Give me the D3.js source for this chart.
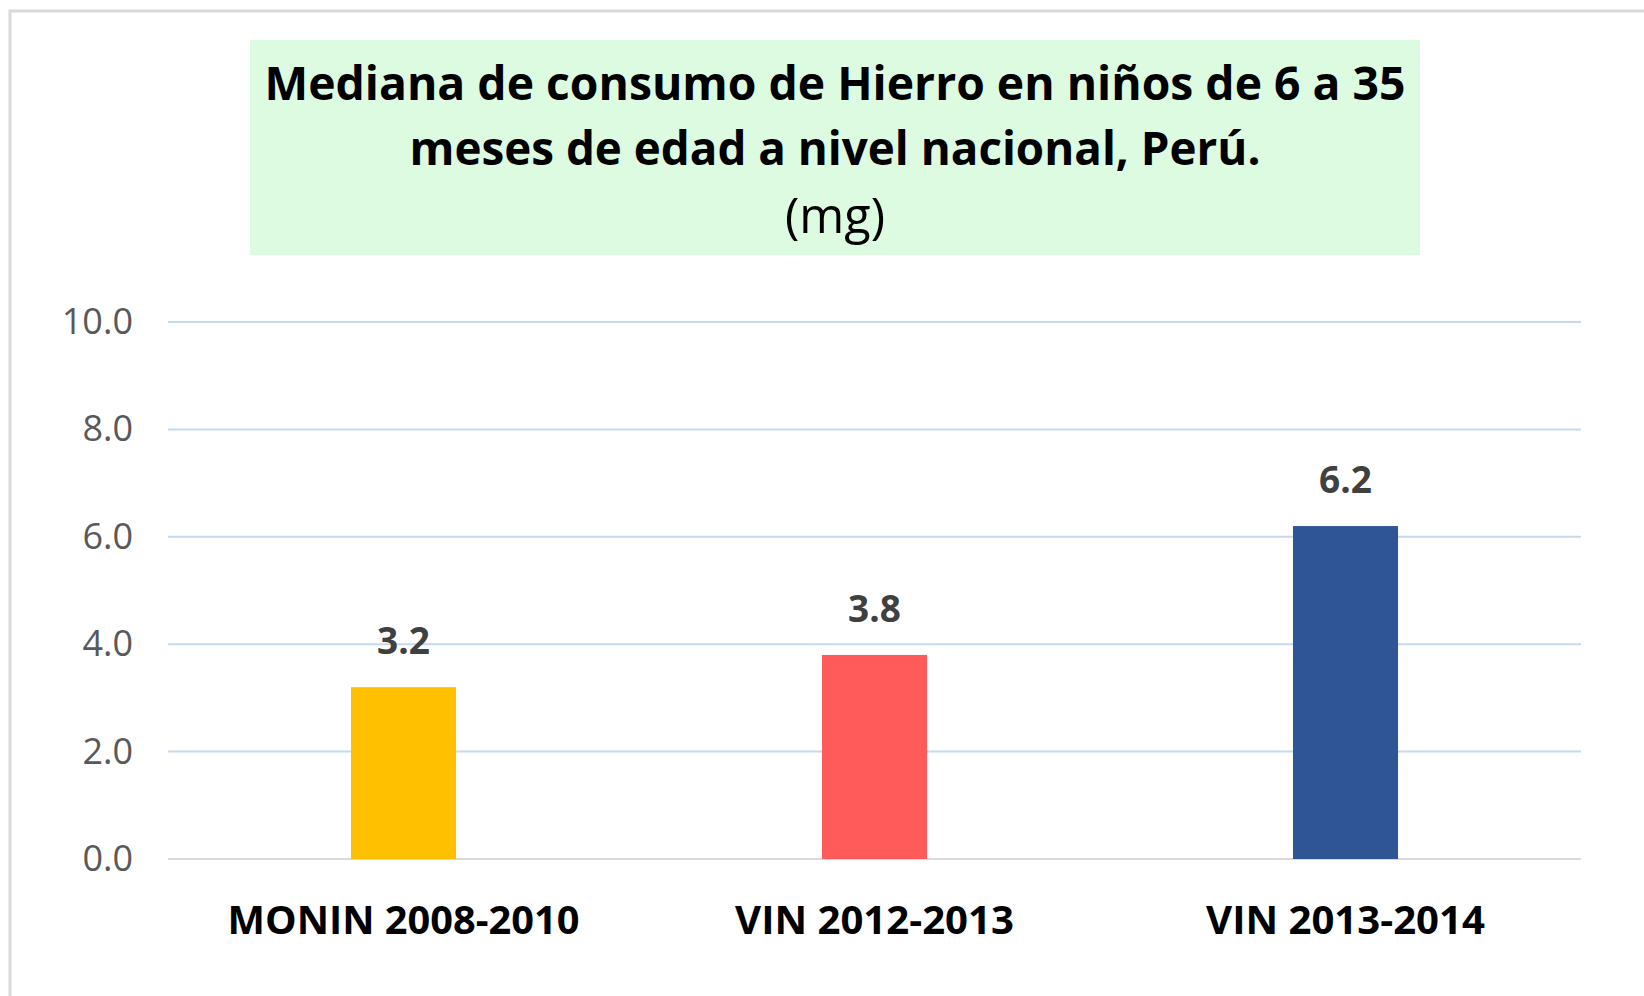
<!DOCTYPE html>
<html>
<head>
<meta charset="utf-8">
<script src="https://cdn.jsdelivr.net/npm/d3@7"></script>
<style>
  body { margin: 0; background: white; }
</style>
</head>
<body>
<div id="chart"></div>
<script>
var width = 1644;
var height = 996;

var categories = ["MONIN 2008-2010", "VIN 2012-2013", "VIN 2013-2014"];
var values = [3.2, 3.8, 6.2];
var barColors = ["#ffc000", "#ff5b5b", "#2f5597"];
var yTicks = [0, 2, 4, 6, 8, 10];
var titleLines = ["Mediana de consumo de Hierro en niños de 6 a 35", "meses de edad a nivel nacional, Perú.", "(mg)"];

var plotLeft = 168;
var plotRight = 1581;
var plotTop = 322;
var plotBottom = 859;

var svg = d3.select("#chart")
    .append("svg")
    .attr("width", width)
    .attr("height", height);

// outer frame (cut off at right and bottom in the reference)
svg.append("rect")
    .attr("x", 10)
    .attr("y", 11)
    .attr("width", 1700)
    .attr("height", 1100)
    .attr("fill", "white")
    .attr("stroke", "#d9d9d9")
    .attr("stroke-width", 3);

function fitWidth(sel, w) {
    sel.each(function() {
        var len = this.getComputedTextLength();
        var fs = parseFloat(d3.select(this).style("font-size"));
        d3.select(this).style("font-size", (fs * w / len) + "px");
    });
}

// title box
svg.append("rect")
    .attr("x", 250)
    .attr("y", 40)
    .attr("width", 1170)
    .attr("height", 215)
    .attr("fill", "#ddfbe0");

var titleY = [100, 165, 233];
var titleW = [1141, 851, 100];
titleLines.forEach(function(t, i) {
    svg.append("text")
        .attr("x", 835)
        .attr("y", titleY[i])
        .style("text-anchor", "middle")
        .style("font-family", "Open Sans, sans-serif")
        .style("font-weight", i < 2 ? "bold" : "normal")
        .style("font-size", "40px")
        .attr("fill", "#000")
        .text(t)
        .call(fitWidth, titleW[i]);
});

var x = d3.scaleBand()
    .domain(categories)
    .range([plotLeft, plotRight])
    .paddingInner(0.777)
    .paddingOuter(0.3885);

var y = d3.scaleLinear()
    .domain([0, 10])
    .range([plotBottom, plotTop]);

// gridlines
svg.append("g")
    .selectAll("line")
    .data(yTicks)
    .enter()
    .append("line")
    .attr("x1", plotLeft)
    .attr("x2", plotRight)
    .attr("y1", d => y(d))
    .attr("y2", d => y(d))
    .attr("stroke", d => d === 0 ? "#d9d9d9" : "#c5daf0")
    .attr("stroke-width", 2);

// y axis labels
var yAxis = d3.axisLeft(y)
    .tickValues(yTicks)
    .tickFormat(d3.format(".1f"))
    .tickSize(0)
    .tickPadding(0);

var yAxisG = svg.append("g")
    .attr("transform", "translate(133,0)")
    .call(yAxis);
yAxisG.select(".domain").remove();
yAxisG.selectAll("text")
    .style("font-family", "Open Sans, sans-serif")
    .style("font-size", "36px")
    .attr("fill", "#595959");

// bars
svg.append("g")
    .selectAll("rect")
    .data(values)
    .enter()
    .append("rect")
    .attr("x", (d, i) => x(categories[i]))
    .attr("y", d => y(d))
    .attr("width", x.bandwidth())
    .attr("height", d => plotBottom - y(d))
    .attr("fill", (d, i) => barColors[i]);

// value labels
svg.append("g")
    .selectAll("text")
    .data(values)
    .enter()
    .append("text")
    .attr("x", (d, i) => x(categories[i]) + x.bandwidth() / 2)
    .attr("y", d => y(d) - 33)
    .style("text-anchor", "middle")
    .style("font-family", "Open Sans, sans-serif")
    .style("font-weight", "bold")
    .style("font-size", "37px")
    .attr("fill", "#404040")
    .text(d => d3.format(".1f")(d));

// category labels
var xAxis = d3.axisBottom(x)
    .tickSize(0)
    .tickPadding(0);

var xAxisG = svg.append("g")
    .attr("transform", "translate(0,920)")
    .call(xAxis);
xAxisG.select(".domain").remove();
xAxisG.selectAll("text")
    .attr("dy", "0.35em")
    .style("font-family", "Open Sans, sans-serif")
    .style("font-weight", "bold")
    .style("font-size", "36px")
    .attr("fill", "#000");
xAxisG.selectAll("text").each(function(d) {
    d3.select(this).call(fitWidth, d === "MONIN 2008-2010" ? 352 : 279);
});
</script>
</body>
</html>
